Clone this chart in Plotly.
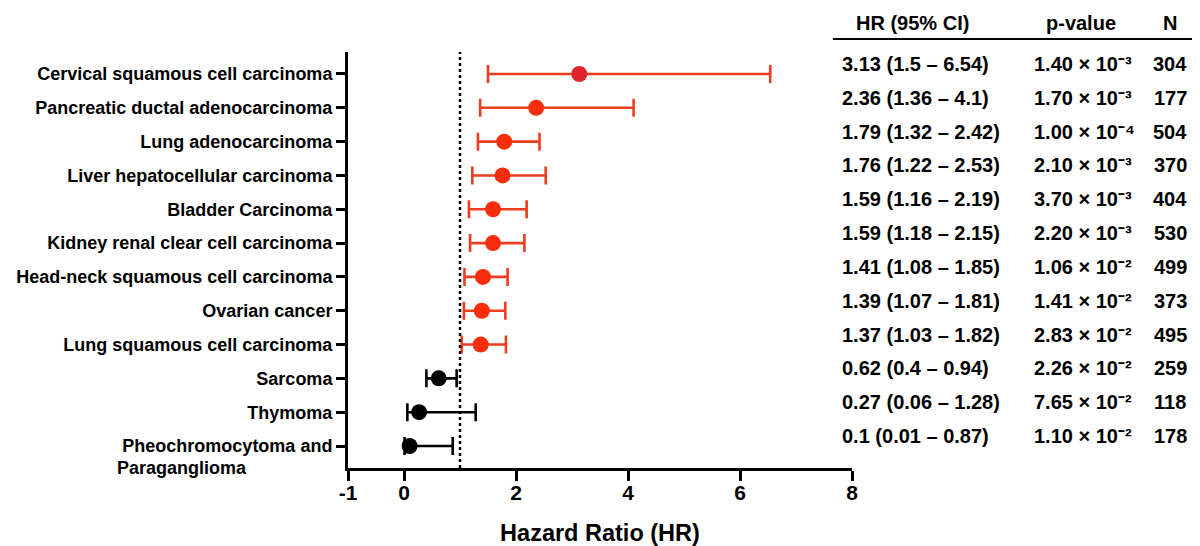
import plotly.graph_objects as go

# ---------------- data ----------------
cancers = [
    "Cervical squamous cell carcinoma",
    "Pancreatic ductal adenocarcinoma",
    "Lung adenocarcinoma",
    "Liver hepatocellular carcinoma",
    "Bladder Carcinoma",
    "Kidney renal clear cell carcinoma",
    "Head-neck squamous cell carcinoma",
    "Ovarian cancer",
    "Lung squamous cell carcinoma",
    "Sarcoma",
    "Thymoma",
    "Pheochromocytoma and Paraganglioma",
]
hr = [3.13, 2.36, 1.79, 1.76, 1.59, 1.59, 1.41, 1.39, 1.37, 0.62, 0.27, 0.10]
ci_low = [1.5, 1.36, 1.32, 1.22, 1.16, 1.18, 1.08, 1.07, 1.03, 0.4, 0.06, 0.01]
ci_high = [6.54, 4.1, 2.42, 2.53, 2.19, 2.15, 1.85, 1.81, 1.82, 0.94, 1.28, 0.87]
p_mant = ["1.40", "1.70", "1.00", "2.10", "3.70", "2.20", "1.06", "1.41", "2.83", "2.26", "7.65", "1.10"]
p_exp = [-3, -3, -4, -3, -3, -3, -2, -2, -2, -2, -2, -2]
n_samples = [304, 177, 504, 370, 404, 530, 499, 373, 495, 259, 118, 178]
x_ticks = [-1, 0, 2, 4, 6, 8]

# ---------------- style ----------------
RED_LINE = "#EE3C1E"
RED_DOT = "#F82D0C"
CRIMSON_DOT = "#E2232F"
BLACK = "#000000"
FONT = "Liberation Sans, Arial, Helvetica, sans-serif"
SUP = str.maketrans("-0123456789", "⁻⁰¹²³⁴⁵⁶⁷⁸⁹")

rows = list(range(len(cancers)))
is_red = [h > 1 for h in hr]
tick_text = [c.replace(" and Paraganglioma", " and") for c in cancers]

fig = go.Figure()


def add_group(idx, line_color, dot_colors):
    fig.add_trace(go.Scatter(
        x=[hr[i] for i in idx],
        y=[rows[i] for i in idx],
        mode="markers",
        marker=dict(size=16, color=dot_colors, line=dict(width=0)),
        error_x=dict(
            type="data", symmetric=False,
            array=[ci_high[i] - hr[i] for i in idx],
            arrayminus=[hr[i] - ci_low[i] for i in idx],
            color=line_color, thickness=2.6, width=9,
        ),
        customdata=[cancers[i] for i in idx],
        hovertemplate="%{customdata}<br>HR %{x}<extra></extra>",
        showlegend=False,
    ))


red_idx = [i for i in rows if is_red[i]]
black_idx = [i for i in rows if not is_red[i]]
add_group(red_idx, RED_LINE, [CRIMSON_DOT if i == 0 else RED_DOT for i in red_idx])
add_group(black_idx, BLACK, BLACK)

# reference line at HR = 1
fig.add_shape(type="line", xref="x", yref="paper", x0=1, x1=1, y0=0, y1=1,
              line=dict(color=BLACK, width=2.5, dash="dot"))

# second line of the wrapped tick label
fig.add_annotation(xref="paper", yref="y", x=-0.462, y=rows[-1], yshift=-22,
                   xanchor="left", yanchor="middle", showarrow=False,
                   text="Paraganglioma",
                   font=dict(family=FONT, size=18, color=BLACK, weight="bold"))

# ---------------- table ----------------
COL_HR, COL_P, COL_N = 0.976, 1.357, 1.631
hdr_font = dict(family=FONT, size=20, color=BLACK, weight="bold")
for txt, x in [("HR (95% CI)", 1.121), ("p-value", 1.454), ("N", COL_N)]:
    fig.add_annotation(xref="paper", yref="paper", x=x, y=1.0697,
                       xanchor="center", yanchor="middle", showarrow=False,
                       text=txt, font=hdr_font)
fig.add_shape(type="line", xref="paper", yref="paper", x0=0.962, x1=1.681,
              y0=1.031, y1=1.031, line=dict(color=BLACK, width=2))

for i in rows:
    hr_txt = f"{hr[i]:g} ({ci_low[i]:g} – {ci_high[i]:g})"
    p_txt = f"{p_mant[i]} × 10" + str(p_exp[i]).translate(SUP)
    for txt, x, anchor in [(hr_txt, COL_HR, "left"), (p_txt, COL_P, "left"),
                           (str(n_samples[i]), COL_N, "center")]:
        fig.add_annotation(xref="paper", yref="y", x=x, y=rows[i], yshift=10,
                           xanchor=anchor, yanchor="middle", showarrow=False,
                           text=txt, font=hdr_font)

fig.update_layout(
    width=1192, height=538,
    margin=dict(l=340, r=348, t=44, b=78),
    paper_bgcolor="white", plot_bgcolor="white",
    font=dict(family=FONT, color=BLACK),
    xaxis=dict(
        range=[-1, 8], tickvals=x_ticks, ticktext=[str(t) for t in x_ticks],
        showline=True, linecolor=BLACK, linewidth=3, mirror=False,
        ticks="outside", ticklen=10, tickwidth=2.5, tickcolor=BLACK,
        ticklabelstandoff=-6, automargin=False,
        showgrid=False, zeroline=False,
        tickfont=dict(family=FONT, size=21, color=BLACK, weight="bold"),
        title=dict(text="Hazard Ratio (HR)", standoff=26,
                   font=dict(family=FONT, size=23.5, color=BLACK, weight="bold")),
    ),
    yaxis=dict(
        range=[len(cancers) - 0.35, -0.65],
        tickvals=rows, ticktext=tick_text, automargin=False,
        showline=True, linecolor=BLACK, linewidth=3,
        ticks="outside", ticklen=9, tickwidth=2.5, tickcolor=BLACK,
        showgrid=False, zeroline=False,
        tickfont=dict(family=FONT, size=18, color=BLACK, weight="bold"),
    ),
)

fig.write_html("out.html")
